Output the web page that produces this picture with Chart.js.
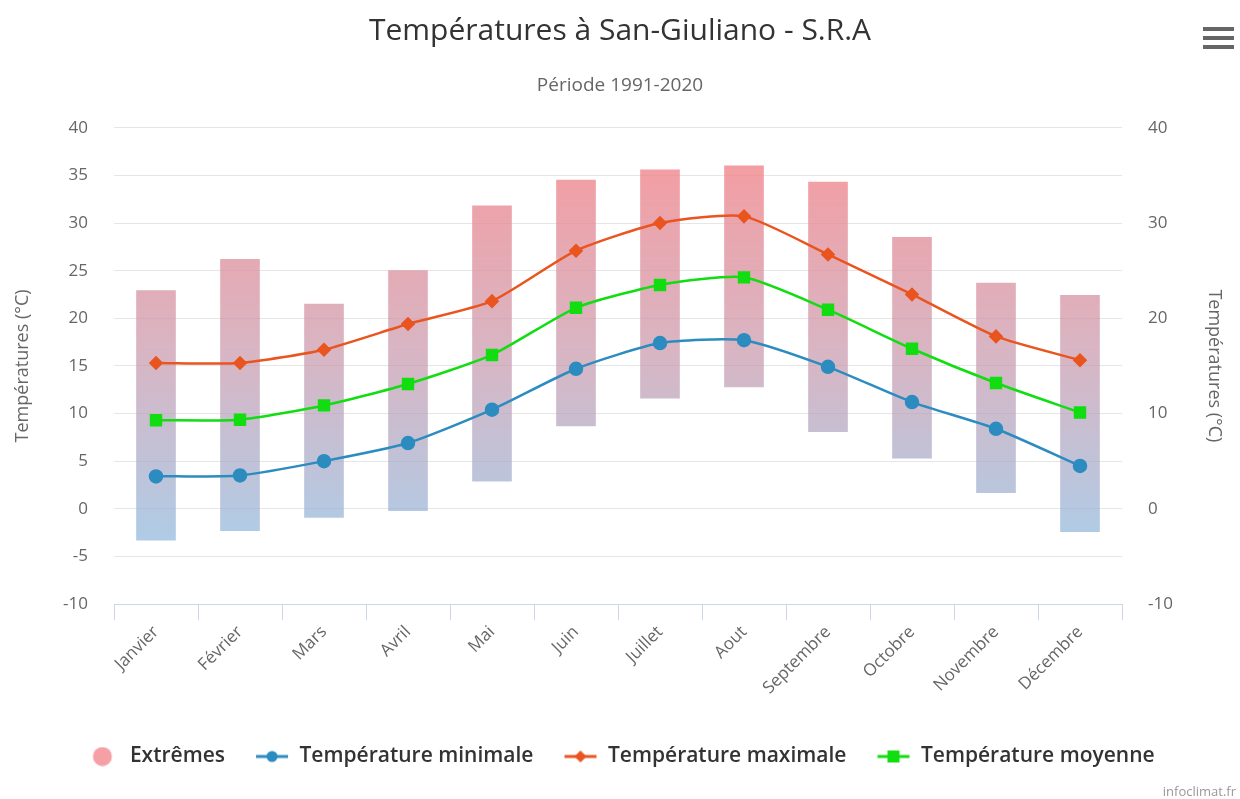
<!DOCTYPE html>
<html>
<head>
<meta charset="utf-8">
<script src="https://cdn.jsdelivr.net/npm/chart.js@4.4.1/dist/chart.umd.min.js"></script>
<style>
  html, body { margin: 0; padding: 0; background: #fff; }
  #wrap { width: 1240px; height: 799px; }
</style>
</head>
<body>
<div id="wrap"><canvas id="tempChart" width="1240" height="799"></canvas></div>
<script>
const months = ['Janvier', 'Février', 'Mars', 'Avril', 'Mai', 'Juin', 'Juillet', 'Aout', 'Septembre', 'Octobre', 'Novembre', 'Décembre'];
const extremeLow  = [-3.3, -2.3, -0.9, -0.2, 2.9, 8.7, 11.6, 12.8, 8.1, 5.3, 1.7, -2.4];
const extremeHigh = [22.9, 26.2, 21.5, 25.0, 31.8, 34.5, 35.6, 36.0, 34.3, 28.5, 23.7, 22.4];
const tempMin  = [3.4, 3.5, 5.0, 6.9, 10.4, 14.7, 17.4, 17.7, 14.9, 11.2, 8.4, 4.5];
const tempMax  = [15.3, 15.3, 16.7, 19.4, 21.8, 27.1, 30.0, 30.7, 26.7, 22.5, 18.1, 15.6];
const tempMean = [9.3, 9.35, 10.85, 13.1, 16.15, 21.1, 23.5, 24.3, 20.9, 16.8, 13.2, 10.1];

const colMin = '#2c8cc0';
const colMax = '#e9541f';
const colMean = '#11dd11';
const fontFam = '"Open Sans", "Noto Sans", sans-serif';

// small canvases used as legend symbols (line + marker)
function legendIcon(color, shape) {
    const c = document.createElement('canvas');
    c.width = 34; c.height = 20;
    const g = c.getContext('2d');
    g.fillStyle = color;
    g.strokeStyle = color;
    if (shape === 'bubble') {
        g.beginPath();
        g.arc(17, 10, 9.5, 0, Math.PI * 2);
        g.fill();
        return c;
    }
    g.lineWidth = 3;
    g.beginPath(); g.moveTo(1, 10); g.lineTo(33, 10); g.stroke();
    g.beginPath();
    if (shape === 'circle') g.arc(17, 10, 5.5, 0, Math.PI * 2);
    else if (shape === 'diamond') { g.moveTo(17, 4); g.lineTo(23, 10); g.lineTo(17, 16); g.lineTo(11, 10); g.closePath(); }
    else g.rect(11, 4, 12, 12);
    g.fill();
    return c;
}
const icons = [legendIcon('#f4a0a4', 'bubble'), legendIcon(colMin, 'circle'), legendIcon(colMax, 'diamond'), legendIcon(colMean, 'square')];
const legendOrder = { 'Extrêmes': 0, 'Température minimale': 1, 'Température maximale': 2, 'Température moyenne': 3 };

function barGradient(context) {
    const chart = context.chart;
    if (!chart.chartArea) return '#d9a8b5';
    const y = chart.scales.y;
    const g = chart.ctx.createLinearGradient(0, y.getPixelForValue(36), 0, y.getPixelForValue(-3.5));
    g.addColorStop(0, 'rgba(241,136,142,0.82)');
    g.addColorStop(0.5, 'rgba(200,150,170,0.70)');
    g.addColorStop(1, 'rgba(140,182,220,0.70)');
    return g;
}

const extras = {
    id: 'extras',
    afterDraw(chart) {
        const c = chart.ctx;
        c.save();
        // menu icon
        c.fillStyle = '#666';
        [27, 36, 45].forEach(function (yy) { c.fillRect(1203, yy, 31, 4); });
        // credit
        c.font = '13px ' + fontFam;
        c.fillStyle = '#999';
        c.textAlign = 'right';
        c.textBaseline = 'middle';
        c.fillText('infoclimat.fr', 1236, 792);
        c.restore();
    }
};

const ctx = document.getElementById('tempChart').getContext('2d');

const tempChart = new Chart(ctx, {
    data: {
        labels: months,
        datasets: [{
            type: 'line',
            label: 'Température minimale',
            data: tempMin,
            borderColor: colMin,
            backgroundColor: colMin,
            borderWidth: 2.5,
            pointStyle: 'circle',
            pointRadius: 6,
            tension: 0.2,
            yAxisID: 'y',
            order: 1
        }, {
            type: 'line',
            label: 'Température maximale',
            data: tempMax,
            borderColor: colMax,
            backgroundColor: colMax,
            borderWidth: 2.5,
            pointStyle: 'rectRot',
            pointRadius: 5.5,
            tension: 0.2,
            yAxisID: 'y',
            order: 1
        }, {
            type: 'line',
            label: 'Température moyenne',
            data: tempMean,
            borderColor: colMean,
            backgroundColor: colMean,
            borderWidth: 2.5,
            pointStyle: 'rect',
            pointRadius: 7,
            tension: 0.2,
            yAxisID: 'y',
            order: 1
        }, {
            type: 'bar',
            label: 'Extrêmes',
            data: extremeLow.map(function (v, i) { return [v, extremeHigh[i]]; }),
            backgroundColor: barGradient,
            borderWidth: 0,
            barThickness: 39,
            yAxisID: 'y',
            order: 2
        }]
    },
    options: {
        responsive: false,
        animation: false,
        layout: { padding: { left: 0, right: 0, top: 0, bottom: 22 } },
        plugins: {
            title: {
                display: true,
                text: 'Températures à San-Giuliano - S.R.A',
                color: '#333',
                font: { family: fontFam, size: 30, weight: 'normal' },
                padding: { top: 13, bottom: 25 }
            },
            subtitle: {
                display: true,
                text: 'Période 1991-2020',
                color: '#666',
                font: { family: fontFam, size: 19, weight: 'normal' },
                padding: { top: 0, bottom: 31 }
            },
            legend: {
                position: 'bottom',
                labels: {
                    usePointStyle: true,
                    pointStyleWidth: 34,
                    color: '#333',
                    font: { family: fontFam, size: 21, weight: '600' },
                    padding: 30,
                    sort: function (a, b) { return legendOrder[a.text] - legendOrder[b.text]; },
                    generateLabels: function (chart) {
                        return chart.data.datasets.map(function (ds, i) {
                            return {
                                text: ds.label,
                                datasetIndex: i,
                                pointStyle: icons[legendOrder[ds.label]],
                                fontColor: '#333',
                                hidden: !chart.isDatasetVisible(i),
                                lineWidth: 0
                            };
                        });
                    }
                }
            },
            tooltip: { enabled: false }
        },
        scales: {
            x: {
                offset: true,
                grid: {
                    display: true,
                    offset: true,
                    drawOnChartArea: false,
                    drawTicks: true,
                    tickLength: 16,
                    color: '#ccd6eb',
                    lineWidth: 1
                },
                border: { display: true, color: '#ccd6eb', width: 1 },
                ticks: {
                    color: '#666',
                    font: { family: fontFam, size: 17 },
                    minRotation: 45,
                    maxRotation: 45,
                    padding: 2
                },
                afterFit: function (scale) { scale.height = 112; }
            },
            y: {
                position: 'left',
                min: -10,
                max: 40,
                ticks: {
                    stepSize: 5,
                    color: '#666',
                    font: { family: fontFam, size: 17 },
                    padding: 26
                },
                grid: { color: '#e6e6e6', lineWidth: 1, drawTicks: false },
                border: { display: false },
                title: {
                    display: true,
                    text: 'Températures (°C)',
                    color: '#666',
                    font: { family: fontFam, size: 18 },
                    padding: { top: 12, bottom: 0 }
                },
                afterFit: function (scale) { scale.width = 114; }
            },
            y2: {
                position: 'right',
                min: -10,
                max: 40,
                ticks: {
                    stepSize: 10,
                    color: '#666',
                    font: { family: fontFam, size: 17 },
                    padding: 18
                },
                grid: { display: false },
                border: { display: false },
                title: {
                    display: true,
                    text: 'Températures (°C)',
                    color: '#666',
                    font: { family: fontFam, size: 18 },
                    padding: { top: 15, bottom: 0 }
                },
                afterFit: function (scale) { scale.width = 118; }
            }
        }
    },
    plugins: [extras]
});
</script>
</body>
</html>
